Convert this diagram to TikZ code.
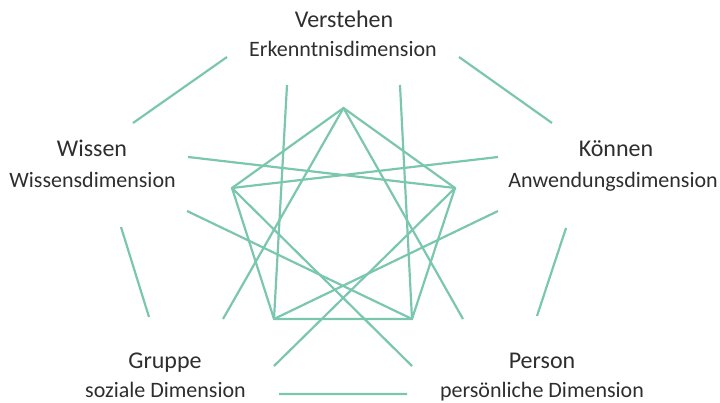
\documentclass[tikz,border=0pt]{standalone}
\usepackage{fontspec}
\setmainfont{Carlito}
\definecolor{teal}{HTML}{7BC6AE}
\definecolor{txt}{HTML}{2E2E2E}
\begin{document}
\begin{tikzpicture}[x=1pt,y=-1pt,
  ln/.style={draw=teal,line width=2.2pt},
  ttl/.style={anchor=base,text=txt,font=\fontsize{24}{28}\selectfont,inner sep=0pt},
  sub/.style={anchor=base,text=txt,font=\fontsize{22}{26}\selectfont,inner sep=0pt}]
\useasboundingbox (0,0) rectangle (720,403);
% inner pentagon vertices
\coordinate (T) at (343.5,108);
\coordinate (L) at (232,188);
\coordinate (R) at (455,188);
\coordinate (BL) at (274,319);
\coordinate (BR) at (412,319);
% outer line ends
\coordinate (v1) at (287,85);
\coordinate (v2) at (400,85);
\coordinate (w1) at (188,157);
\coordinate (w2) at (187,211);
\coordinate (k1) at (498,157);
\coordinate (k2) at (498,211);
\coordinate (g1) at (223,319);
\coordinate (g2) at (274,366);
\coordinate (p1) at (463,319);
\coordinate (p2) at (412,366);
% outer edge pieces
\coordinate (e1a) at (133,123); \coordinate (e1b) at (227,57);
\coordinate (e2a) at (459,57);  \coordinate (e2b) at (552,123);
\coordinate (e3a) at (121,227); \coordinate (e3b) at (149,317);
\coordinate (e4a) at (566,228); \coordinate (e4b) at (537,316);
\coordinate (e5a) at (279,394); \coordinate (e5b) at (407,394);
% inner pentagon
\draw[ln] (T) -- (L) -- (BL) -- (BR) -- (R) -- cycle;
% rays
\draw[ln] (v1) -- (BL) (v2) -- (BR);
\draw[ln] (w1) -- (R) (w2) -- (BR);
\draw[ln] (k1) -- (L) (k2) -- (BL);
\draw[ln] (g1) -- (T) (g2) -- (R);
\draw[ln] (p1) -- (T) (p2) -- (L);
% outer edges
\draw[ln] (e1a) -- (e1b) (e2a) -- (e2b) (e3a) -- (e3b) (e4a) -- (e4b) (e5a) -- (e5b);
% labels
\node[ttl] (nv) at (344,28) {Verstehen};
\node[sub] (sv) at (343,57) {Erkenntnisdimension};
\node[ttl] (nw) at (92,157) {Wissen};
\node[sub] (sw) at (92.5,188) {Wissensdimension};
\node[ttl] (nk) at (616,157) {Können};
\node[sub,anchor=base east] (sk) at (718,188) {Anwendungsdimension};
\node[ttl] (ng) at (165,368) {Gruppe};
\node[sub] (sg) at (165.5,397) {soziale Dimension};
\node[ttl] (np) at (542,368) {Person};
\node[sub] (sp) at (542,397) {persönliche Dimension};
\end{tikzpicture}
\end{document}
